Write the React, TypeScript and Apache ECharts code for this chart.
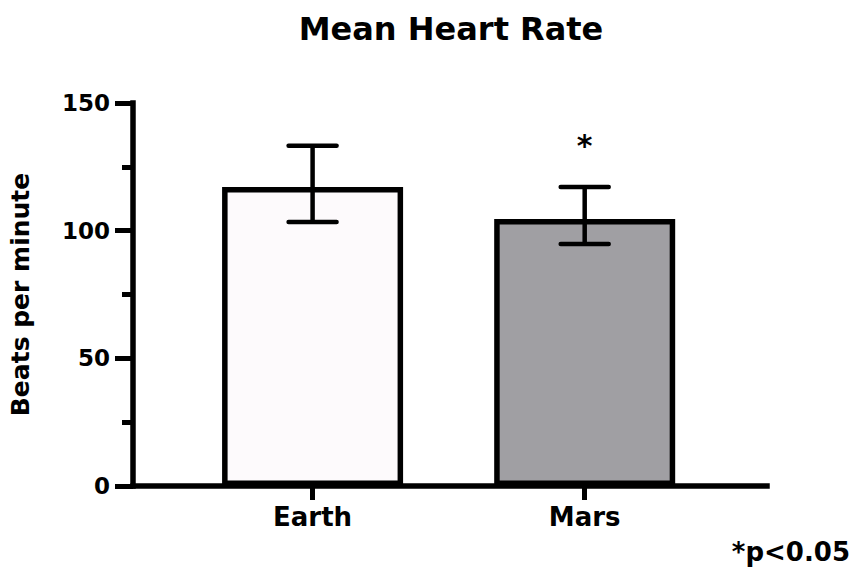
import React, { useEffect, useRef } from "react";
import * as echarts from "echarts";

const categories = ["Earth", "Mars"];
const meanValues = [117.1, 104.6];
const upperValues = [133.3, 117.1];
const lowerValues = [103.4, 94.8];
const significant = [false, true];
const barColors = ["#fdfafc", "#a09fa3"];
const yTicks = [0, 50, 100, 150];

const FONT = "DejaVu Sans";

export default function App() {
  const ref = useRef<HTMLDivElement>(null);
  useEffect(() => {
    document.body.style.margin = "0";
    if (!ref.current) return;
    const chart = echarts.init(ref.current, null, { renderer: "svg" });
    const catIdx = categories.map((_, i) => i);
    chart.setOption({
      animation: false,
      backgroundColor: "#ffffff",
      title: {
        text: "Mean Heart Rate",
        left: 446,
        top: 8,
        textAlign: "center",
        textStyle: { fontFamily: FONT, fontWeight: "bold", fontSize: 32, color: "#000" },
      },
      grid: { left: 131, right: 85, top: 103, bottom: 85, containLabel: false },
      xAxis: {
        type: "value",
        min: -0.66,
        max: 1.67,
        splitLine: { show: false },
        axisLine: { show: true, onZero: false, lineStyle: { color: "#000", width: 5.5, cap: "square" } },
        axisTick: { show: true, customValues: catIdx, length: 14, inside: false, lineStyle: { color: "#000", width: 5 } },
        axisLabel: {
          show: true,
          customValues: catIdx,
          formatter: (v: number) => categories[Math.round(v)] ?? "",
          margin: 18,
          fontFamily: FONT,
          fontWeight: "bold",
          fontSize: 26,
          color: "#000",
        },
      },
      yAxis: {
        type: "value",
        min: 0,
        max: 150,
        interval: 50,
        name: "Beats per minute",
        nameLocation: "middle",
        nameGap: 100,
        nameTextStyle: { fontFamily: FONT, fontWeight: "bold", fontSize: 25, color: "#000" },
        splitLine: { show: false },
        axisLine: { show: true, onZero: false, lineStyle: { color: "#000", width: 5.5, cap: "square" } },
        axisTick: { show: true, length: 18, lineStyle: { color: "#000", width: 5 } },
        minorTick: { show: true, splitNumber: 2, length: 11, lineStyle: { color: "#000", width: 5 } },
        axisLabel: {
          margin: 23,
          fontFamily: FONT,
          fontWeight: "bold",
          fontSize: 23,
          color: "#000",
          customValues: yTicks,
        },
      },
      series: [
        {
          type: "bar",
          barWidth: 181,
          data: meanValues.map((v, i) => ({
            value: [i, v],
            itemStyle: { color: barColors[i], borderColor: "#000", borderWidth: 5.5 },
          })),
          z: 2,
        },
        {
          type: "custom",
          z: 5,
          data: meanValues.map((_, i) => [i, lowerValues[i], upperValues[i], significant[i] ? 1 : 0]),
          renderItem: (params: any, api: any) => {
            const x = api.value(0);
            const lo = api.coord([x, api.value(1)]);
            const hi = api.coord([x, api.value(2)]);
            const capHalf = 24;
            const style = { stroke: "#000", lineWidth: 4.5 };
            const children: any[] = [
              { type: "line", shape: { x1: lo[0], y1: lo[1], x2: hi[0], y2: hi[1] }, style },
              { type: "line", shape: { x1: hi[0] - capHalf, y1: hi[1], x2: hi[0] + capHalf, y2: hi[1] }, style: { ...style, lineCap: "round" } },
              { type: "line", shape: { x1: lo[0] - capHalf, y1: lo[1], x2: lo[0] + capHalf, y2: lo[1] }, style: { ...style, lineCap: "round" } },
            ];
            if (api.value(3) === 1) {
              children.push({
                type: "text",
                style: {
                  text: "*",
                  x: hi[0],
                  y: hi[1] - 42,
                  textAlign: "center",
                  textVerticalAlign: "middle",
                  fontFamily: FONT,
                  fontWeight: "bold",
                  fontSize: 30,
                  fill: "#000",
                },
              });
            }
            return { type: "group", children };
          },
        },
      ],
      graphic: [
        {
          type: "text",
          x: 850,
          y: 565,
          style: {
            text: "*p<0.05",
            textAlign: "right",
            textVerticalAlign: "bottom",
            fontFamily: FONT,
            fontWeight: "bold",
            fontSize: 26,
            fill: "#000",
          },
        },
      ],
    });
    return () => chart.dispose();
  }, []);
  return <div ref={ref} style={{ width: 852, height: 571 }} />;
}
